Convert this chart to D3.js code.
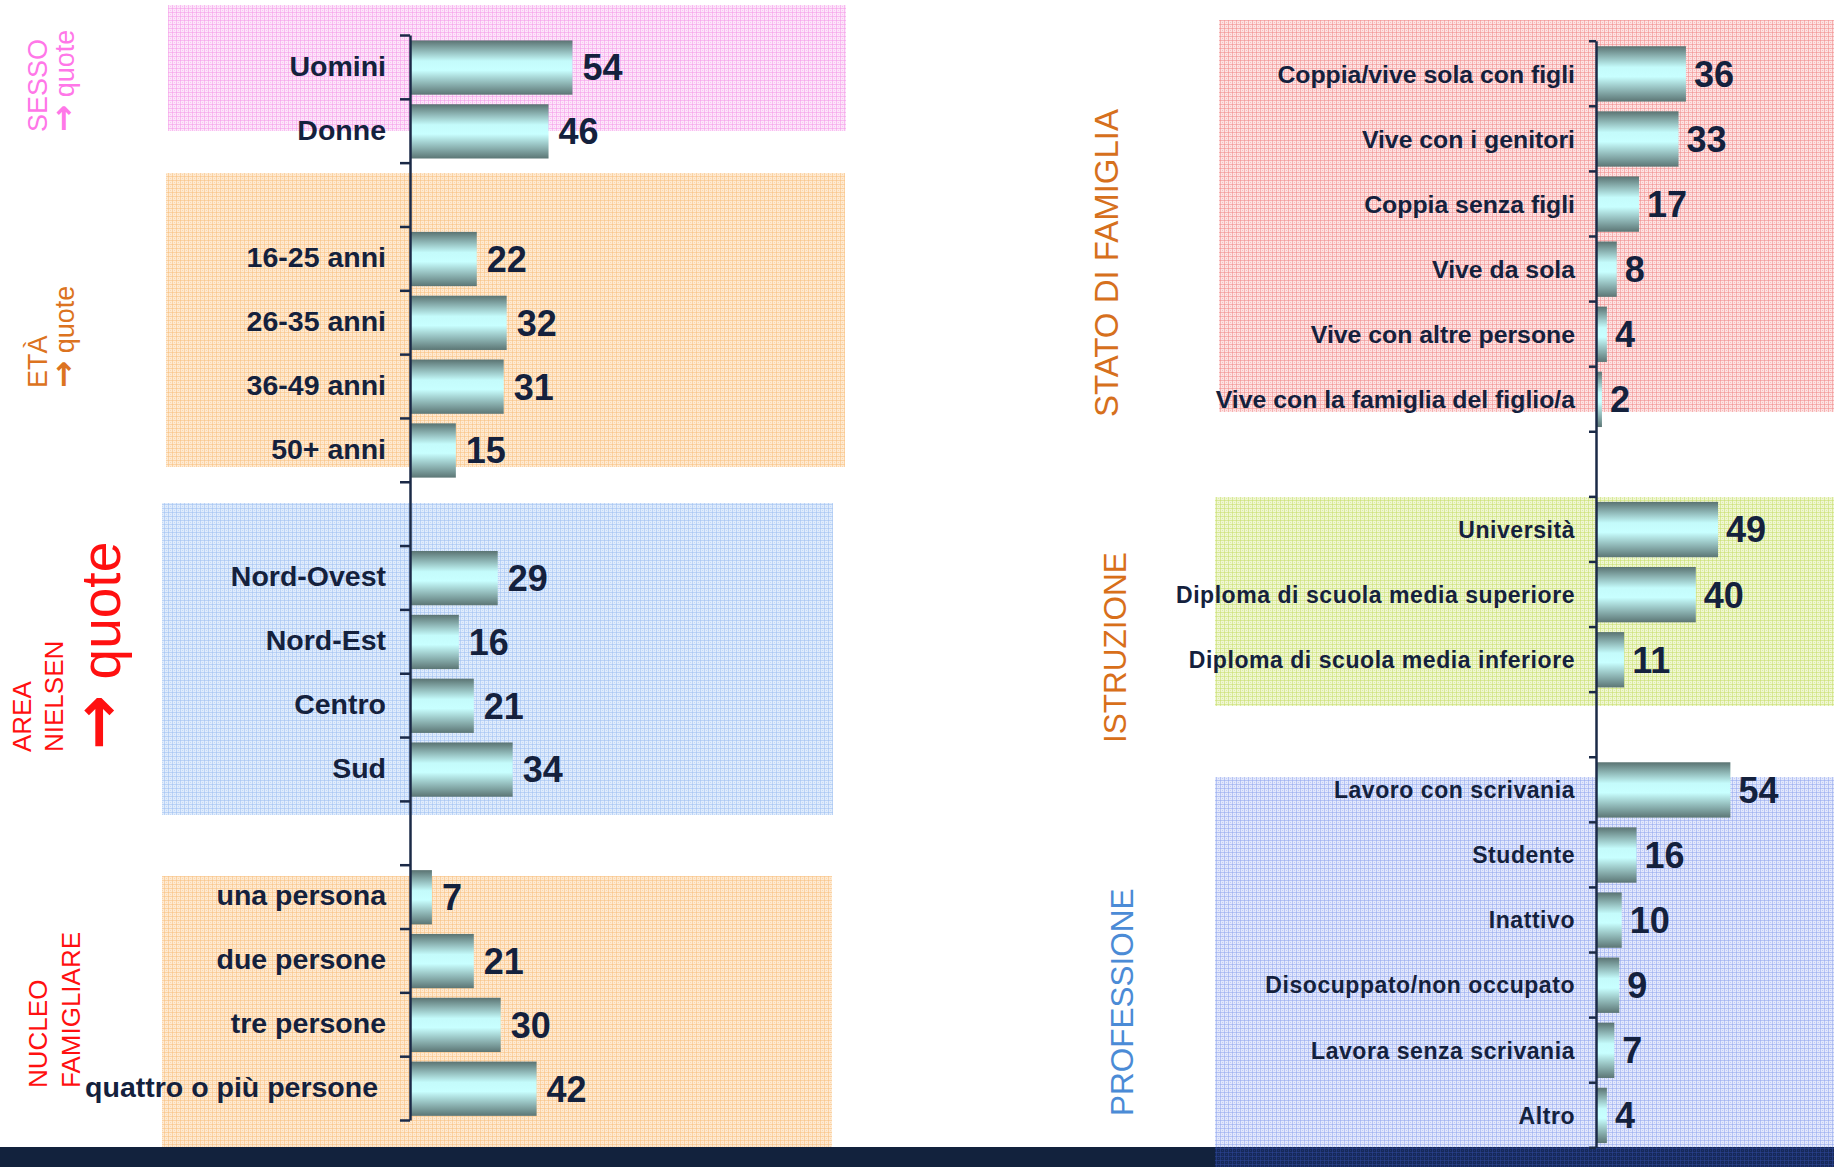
<!DOCTYPE html>
<html>
<head>
<meta charset="utf-8">
<script src="https://cdn.jsdelivr.net/npm/d3@7"></script>
<style>
  body { margin: 0; background: #fff; }
  svg { display: block; font-family: "Liberation Sans", Arial, sans-serif; }
</style>
</head>
<body>
<div id="chart"></div>
<script>
// ---- data ----
var sessoCats = ["Uomini", "Donne"]
var sessoVals = [54, 46]
var etaCats = ["16-25 anni", "26-35 anni", "36-49 anni", "50+ anni"]
var etaVals = [22, 32, 31, 15]
var areaCats = ["Nord-Ovest", "Nord-Est", "Centro", "Sud"]
var areaVals = [29, 16, 21, 34]
var nucleoCats = ["una persona", "due persone", "tre persone", "quattro o più persone"]
var nucleoVals = [7, 21, 30, 42]

var statoCats = ["Coppia/vive sola con figli", "Vive con i genitori", "Coppia senza figli",
  "Vive da sola", "Vive con altre persone", "Vive con la famiglia del figlio/a"]
var statoVals = [36, 33, 17, 8, 4, 2]
var istruzioneCats = ["Università", "Diploma di scuola media superiore", "Diploma di scuola media inferiore"]
var istruzioneVals = [49, 40, 11]
var professioneCats = ["Lavoro con scrivania", "Studente", "Inattivo", "Disocuppato/non occupato",
  "Lavora senza scrivania", "Altro"]
var professioneVals = [54, 16, 10, 9, 7, 4]

var W = 1834, H = 1167
var ink = '#14213d'

var svg = d3.select('#chart').append('svg')
  .attr('width', W).attr('height', H)

var defs = svg.append('defs')

// bar gradient (dark slate -> cyan -> dark slate)
var grad = defs.append('linearGradient').attr('id', 'barGrad')
  .attr('x1', 0).attr('y1', 0).attr('x2', 0).attr('y2', 1)
grad.selectAll('stop')
  .data([[0, '#5a7372'], [0.38, '#c4fbfb'], [0.55, '#c8ffff'], [1, '#5c7675']])
  .enter().append('stop')
  .attr('offset', function(d){ return d[0] })
  .attr('stop-color', function(d){ return d[1] })

// dotted texture for the coloured panels
function makePattern(id, base, dot){
  var p = defs.append('pattern').attr('id', id)
    .attr('width', 4).attr('height', 4).attr('patternUnits', 'userSpaceOnUse')
  p.append('rect').attr('width', 4).attr('height', 4).attr('fill', base)
  p.append('rect').attr('x', 0).attr('y', 0).attr('width', 4).attr('height', 1).attr('fill', dot).attr('opacity', 0.6)
  p.append('rect').attr('x', 0).attr('y', 0).attr('width', 1).attr('height', 4).attr('fill', dot).attr('opacity', 0.6)
  p.append('rect').attr('x', 2).attr('y', 2).attr('width', 1).attr('height', 1).attr('fill', dot).attr('opacity', 0.45)
}
makePattern('pPink', '#fde6fa', '#f59eea')
makePattern('pOrange', '#feead2', '#f8c283')
makePattern('pBlue', '#e0ecfc', '#a2c3f1')
makePattern('pRed', '#fde3e3', '#f19090')
makePattern('pGreen', '#f0f7d4', '#c9df72')
makePattern('pBlue2', '#e3e8fc', '#98abee')
makePattern('pNavy', '#16295a', '#2b4592')

// background panels
var panels = [
  [168, 5, 678, 126, 'pPink'],
  [166, 173, 679, 294, 'pOrange'],
  [162, 503, 671, 312, 'pBlue'],
  [162, 876, 670, 271, 'pOrange'],
  [1219, 20, 615, 392, 'pRed'],
  [1215, 497, 619, 209, 'pGreen'],
  [1215, 777, 619, 370, 'pBlue2']
]
svg.append('g').selectAll('rect').data(panels).enter().append('rect')
  .attr('x', function(d){ return d[0] })
  .attr('y', function(d){ return d[1] })
  .attr('width', function(d){ return d[2] })
  .attr('height', function(d){ return d[3] })
  .attr('fill', function(d){ return 'url(#' + d[4] + ')' })

// bottom band
svg.append('rect').attr('x', 0).attr('y', 1147).attr('width', W).attr('height', H - 1147).attr('fill', '#12223d')
svg.append('rect').attr('x', 1215).attr('y', 1147).attr('width', W - 1215).attr('height', H - 1147).attr('fill', 'url(#pNavy)')

// build slot list: groups separated by one empty slot
function buildSlots(groups){
  var slots = []
  groups.forEach(function(gr, gi){
    if (gi > 0) slots.push({cat: null})
    gr[0].forEach(function(c, i){ slots.push({cat: c, val: gr[1][i], style: gr[2]}) })
  })
  slots.forEach(function(s, i){ s.i = i })
  return slots
}

function drawChart(slots, cfg){
  var n = slots.length
  var y = d3.scaleBand().domain(d3.range(n)).range([cfg.top, cfg.bottom])
  var yt = d3.scaleLinear().domain([0, n]).range([cfg.top, cfg.bottom])
  var x = d3.scaleLinear().domain([0, 100]).range([cfg.x0, cfg.x0 + cfg.unit * 100])
  var g = svg.append('g')
  var data = slots.filter(function(s){ return s.cat })
  var bh = y.bandwidth() * 0.85

  g.selectAll('rect.bar').data(data).enter().append('rect')
    .attr('class', 'bar')
    .attr('x', x(0) + 1)
    .attr('y', function(d){ return y(d.i) + y.bandwidth() * 0.085 })
    .attr('width', function(d){ return x(d.val) - x(0) })
    .attr('height', bh)
    .attr('fill', 'url(#barGrad)')

  var ax = g.append('g')
    .attr('transform', 'translate(' + x(0) + ',0)')
    .call(d3.axisLeft(yt).tickValues(d3.range(n + 1)).tickSize(cfg.tick).tickSizeOuter(0).tickFormat(''))
  ax.selectAll('path, line').attr('stroke', '#1b2a47').attr('stroke-width', 2.5)

  function mid(d){ return y(d.i) + y.bandwidth() * 0.085 + bh / 2 }

  g.selectAll('text.cat').data(data).enter().append('text')
    .attr('class', 'cat')
    .attr('x', function(d){ return x(0) - cfg.labelGap - (d.cat.length > 18 && cfg.longShift ? cfg.longShift : 0) })
    .attr('y', function(d){ var s = d.style || cfg.labelStyle; return mid(d) + s.size * 0.358 + cfg.labelDy })
    .attr('text-anchor', 'end')
    .attr('font-weight', 'bold')
    .attr('font-size', function(d){ return (d.style || cfg.labelStyle).size })
    .attr('letter-spacing', function(d){ return (d.style || cfg.labelStyle).ls })
    .attr('fill', ink)
    .text(function(d){ return d.cat })

  g.selectAll('text.val').data(data).enter().append('text')
    .attr('class', 'val')
    .attr('x', function(d){ return x(d.val) + cfg.valGap })
    .attr('y', function(d){ return mid(d) + 36 * 0.358 })
    .attr('font-weight', 'bold')
    .attr('font-size', 36)
    .attr('fill', ink)
    .text(function(d){ return d.val })
}

var leftSlots = buildSlots([[sessoCats, sessoVals], [etaCats, etaVals], [areaCats, areaVals], [nucleoCats, nucleoVals]])
drawChart(leftSlots, {top: 35, bottom: 1120, x0: 410, unit: 2.99, tick: 10, labelGap: 24, longShift: 8,
  labelDy: -2, valGap: 11, labelStyle: {size: 28.5, ls: 0}})

var statoStyle = {size: 24.8, ls: 0}
var otherStyle = {size: 23, ls: 0.55}
var rightSlots = buildSlots([[statoCats, statoVals, statoStyle], [istruzioneCats, istruzioneVals, otherStyle],
  [professioneCats, professioneVals, otherStyle]])
drawChart(rightSlots, {top: 40.7, bottom: 1147.3, x0: 1596, unit: 2.47, tick: 7, labelGap: 21, longShift: 0,
  labelDy: 0, valGap: 9, labelStyle: otherStyle})

// rotated group titles: [text, arrow?, baseline x, bottom y, size, colour]
var titles = [
  ['SESSO', false, 47, 132, 27, '#ff77e8'],
  [' quote', true, 74, 132, 27, '#ff77e8'],
  ['ETÀ', false, 47, 388, 27, '#dc7320'],
  [' quote', true, 74, 388, 27, '#dc7320'],
  ['AREA', false, 31, 752, 26, '#ff1010'],
  ['NIELSEN', false, 63, 752, 26, '#ff1010'],
  [' quote', true, 120, 750, 55, '#ff1010'],
  ['NUCLEO', false, 47, 1088, 26, '#ff1010'],
  ['FAMIGLIARE', false, 80, 1088, 26, '#ff1010'],
  ['STATO DI FAMIGLIA', false, 1118, 417, 33, '#d6701d'],
  ['ISTRUZIONE', false, 1126, 743, 31.5, '#d86f1a'],
  ['PROFESSIONE', false, 1133, 1116, 31.5, '#4b8bd6']
]
var tt = svg.append('g').selectAll('text').data(titles).enter().append('text')
  .attr('transform', function(d){ return 'translate(' + d[2] + ',' + d[3] + ') rotate(-90)' })
  .attr('font-size', function(d){ return d[4] })
  .attr('fill', function(d){ return d[5] })
tt.filter(function(d){ return d[1] }).append('tspan')
  .attr('font-family', '"DejaVu Sans", sans-serif')
  .attr('font-size', function(d){ return d[4] * 1.2 })
  .attr('font-weight', 'bold')
  .text('\u2192')
tt.append('tspan').text(function(d){ return d[0] })
</script>
</body>
</html>
